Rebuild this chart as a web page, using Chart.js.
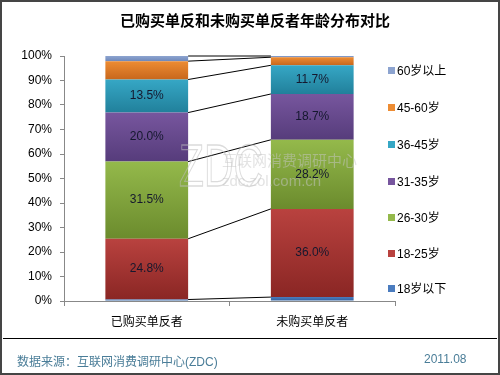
<!DOCTYPE html>
<html>
<head>
<meta charset="utf-8">
<script src="https://cdn.jsdelivr.net/npm/chart.js@4"></script>
<style>
    html, body { margin: 0; padding: 0; background: #fff; }
    #wrap { position: relative; width: 500px; height: 375px; overflow: hidden; font-family: "Liberation Sans", "Noto Sans CJK SC", sans-serif; }
    #chart { position: absolute; left: 0; top: 0; }
    #frame { position: absolute; left: 0; top: 0; width: 500px; height: 375px; box-sizing: border-box; border: 2px solid #454545; pointer-events: none; }
    #title { position: absolute; left: 0; width: 510px; top: 9px; text-align: center; font: bold 15px "Noto Sans CJK SC", sans-serif; color: #000; }
    #rule { position: absolute; left: 3px; right: 3px; top: 338px; height: 1px; background: #000; }
    .foot { position: absolute; top: 352px; font-size: 12px; color: #4a7d98; }
    .legend-item { position: absolute; left: 388px; font-size: 12px; color: #000; line-height: 14px; white-space: nowrap; }
    .legend-item i { display: inline-block; width: 7px; height: 7px; margin-right: 2px; vertical-align: 1px; }
</style>
</head>
<body>
<div id="wrap">
    <canvas id="chart" width="500" height="375"></canvas>
    <div id="title">已购买单反和未购买单反者年龄分布对比</div>
    <div id="legend"></div>
    <div id="rule"></div>
    <div class="foot" style="left:17px">数据来源：互联网消费调研中心(ZDC)</div>
    <div class="foot" style="left:424px">2011.08</div>
    <div id="frame"></div>
</div>
<script>
const categories = ['已购买单反者', '未购买单反者'];
const seriesNames = ['18岁以下', '18-25岁', '26-30岁', '31-35岁', '36-45岁', '45-60岁', '60岁以上'];
const under18 = [0.6, 1.6];
const age18to25 = [24.8, 36.0];
const age26to30 = [31.5, 28.2];
const age31to35 = [20.0, 18.7];
const age36to45 = [13.5, 11.7];
const age45to60 = [7.5, 3.3];
const over60 = [2.1, 0.5];
const labelledSeries = ['18-25岁', '26-30岁', '31-35岁', '36-45岁'];
const yMax = 100;
const yStep = 10;

// light (top) / dark (bottom) for the excel-ish gradient
const topColors = ['#4b7cbf', '#b9423f', '#94b94b', '#77569e', '#36a7c5', '#ed8c33', '#8da4d0'];
const bottomColors = ['#2e5e9b', '#8a2624', '#6b8b2d', '#563c7b', '#21809b', '#c8671c', '#6f88ba'];

const seriesValues = [under18, age18to25, age26to30, age31to35, age36to45, age45to60, over60];

function stackStart(dsIndex, i) {
    let s = 0;
    for (let k = 0; k < dsIndex; k++) s += seriesValues[k][i];
    return s;
}

function segmentFill(ctx) {
    const chart = ctx.chart;
    const yScale = chart.scales.y;
    const d = ctx.datasetIndex;
    if (ctx.type !== 'data' || !chart.chartArea || !yScale) return topColors[d];
    const start = stackStart(d, ctx.dataIndex);
    const end = start + seriesValues[d][ctx.dataIndex];
    const yTop = yScale.getPixelForValue(end);
    const yBot = yScale.getPixelForValue(start);
    if (!isFinite(yTop) || !isFinite(yBot) || yTop === yBot) return topColors[d];
    const g = chart.ctx.createLinearGradient(0, yTop, 0, yBot);
    g.addColorStop(0, topColors[d]);
    g.addColorStop(1, bottomColors[d]);
    return g;
}

// thin lines joining the stack boundaries of the two bars
const seriesLines = {
    id: 'seriesLines',
    afterDatasetsDraw(chart) {
        const c = chart.ctx;
        c.save();
        c.strokeStyle = '#000';
        c.lineWidth = 1;
        chart.data.datasets.forEach((ds, d) => {
            const meta = chart.getDatasetMeta(d);
            const a = meta.data[0].getProps(['x', 'y', 'width'], true);
            const b = meta.data[1].getProps(['x', 'y', 'width'], true);
            c.beginPath();
            c.moveTo(a.x + a.width / 2, a.y);
            c.lineTo(b.x - b.width / 2, b.y);
            c.stroke();
        });
        c.restore();
    }
};

const valueLabels = {
    id: 'valueLabels',
    afterDatasetsDraw(chart) {
        const c = chart.ctx;
        c.save();
        c.font = '12px "Liberation Sans", sans-serif';
        c.fillStyle = '#15182e';
        c.textAlign = 'center';
        c.textBaseline = 'middle';
        chart.data.datasets.forEach((ds, d) => {
            if (!labelledSeries.includes(ds.label)) return;
            chart.getDatasetMeta(d).data.forEach((el, i) => {
                const p = el.getProps(['x', 'y', 'base'], true);
                c.fillText(ds.data[i].toFixed(1) + '%', p.x, (p.y + p.base) / 2);
            });
        });
        c.restore();
    }
};

const watermark = {
    id: 'watermark',
    afterDatasetsDraw(chart) {
        const c = chart.ctx;
        c.save();
        c.strokeStyle = 'rgba(190,190,190,0.55)';
        c.lineWidth = 1.3;
        c.translate(179, 186);
        c.scale(0.68, 1);
        c.font = '60px "Liberation Sans", sans-serif';
        c.textBaseline = 'alphabetic';
        c.strokeText('ZDC', 0, 0);
        c.setTransform(1, 0, 0, 1, 0, 0);
        c.fillStyle = 'rgba(200,200,200,0.5)';
        c.font = '15px "Noto Sans CJK SC", sans-serif';
        c.fillText('互联网消费调研中心', 222, 166);
        c.font = '15px "Liberation Sans", sans-serif';
        c.fillText('zdc.zol.com.cn', 222, 186);
        c.restore();
    }
};

const legendBox = document.getElementById('legend');
const legendTops = [64, 101, 138, 175, 211, 247, 282];
seriesNames.slice().reverse().forEach((name, i) => {
    const d = seriesNames.length - 1 - i;
    const item = document.createElement('div');
    item.className = 'legend-item';
    item.style.top = legendTops[i] + 'px';
    item.innerHTML = `<i style="background:${topColors[d]}"></i>${name}`;
    legendBox.appendChild(item);
});

new Chart(document.getElementById('chart'), {
    type: 'bar',
    data: {
        labels: categories,
        datasets: seriesNames.map((name, d) => ({
            label: name,
            data: seriesValues[d],
            backgroundColor: segmentFill,
            borderWidth: 0,
            categoryPercentage: 1,
            barPercentage: 0.5,
        }))
    },
    options: {
        responsive: false,
        animation: false,
        devicePixelRatio: 1,
        layout: { padding: { left: 10, top: 56, right: 105, bottom: 33 } },
        plugins: {
            legend: { display: false },
            title: { display: false },
            tooltip: { enabled: false }
        },
        scales: {
            x: {
                stacked: true,
                afterFit: (s) => { s.height = 41; },
                grid: { drawOnChartArea: false, offset: true, tickLength: 5, color: '#888' },
                border: { color: '#888' },
                ticks: { color: '#000', padding: 8, font: { size: 12, family: '"Noto Sans CJK SC", sans-serif' } }
            },
            y: {
                stacked: true,
                min: 0,
                max: yMax,
                afterFit: (s) => { s.width = 54; },
                grid: { drawOnChartArea: false, tickLength: 4, color: '#888' },
                border: { color: '#888' },
                ticks: {
                    stepSize: yStep,
                    color: '#000',
                    padding: 8,
                    font: { size: 12, family: '"Liberation Sans", sans-serif' },
                    callback: (v) => v + '%'
                }
            }
        }
    },
    plugins: [seriesLines, valueLabels, watermark]
});
</script>
</body>
</html>
